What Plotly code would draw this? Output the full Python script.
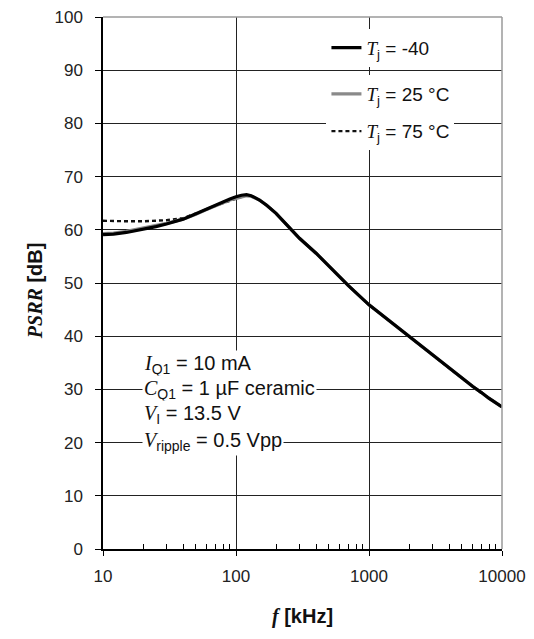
import plotly.graph_objects as go

freq_khz = [10, 12, 15, 20, 25, 30, 40, 50, 60, 70, 80, 90, 100, 110, 120, 130, 140, 150,
            170, 200, 250, 300, 400, 500, 700, 1000, 1500, 2000, 3000, 4000, 5000, 6000,
            7000, 8000, 10000]

psrr_m40 = [59.1, 59.2, 59.5, 60.1, 60.6, 61.1, 62.0, 63.0, 63.9, 64.7, 65.3, 65.8, 66.2, 66.5,
            66.6, 66.4, 66.0, 65.6, 64.6, 63.1, 60.5, 58.4, 55.6, 53.2, 49.5, 45.9, 42.4, 39.9,
            36.5, 34.0, 32.1, 30.6, 29.4, 28.3, 26.7]

psrr_25 = [59.3, 59.4, 59.7, 60.3, 60.7, 61.2, 62.0, 62.9, 63.8, 64.5, 65.1, 65.6, 65.9, 66.2,
           66.4, 66.3, 66.0, 65.6, 64.6, 63.1, 60.5, 58.4, 55.6, 53.2, 49.5, 45.9, 42.4, 39.9,
           36.5, 34.0, 32.1, 30.6, 29.4, 28.3, 26.7]

psrr_75 = [61.7, 61.6, 61.6, 61.6, 61.7, 61.8, 62.2, 63.0, 63.8, 64.5, 65.0, 65.5, 65.9, 66.2,
           66.4, 66.3, 66.0, 65.6, 64.6, 63.1, 60.5, 58.4, 55.6, 53.2, 49.5, 45.9, 42.4, 39.9,
           36.5, 34.0, 32.1, 30.6, 29.4, 28.3, 26.7]

x_ticks = [10, 100, 1000, 10000]
x_tick_text = ["10", "100", "1000", "10000"]
x_minor = [20, 30, 40, 50, 60, 70, 80, 90, 200, 300, 400, 500, 600, 700, 800, 900,
           2000, 3000, 4000, 5000, 6000, 7000, 8000, 9000]

SERIF = "Liberation Serif"
SANS = "Liberation Sans"


def it(s):
    return f'<span style="font-family:{SERIF}"><i>{s}</i></span>'


fig = go.Figure()
fig.add_trace(go.Scatter(x=freq_khz, y=psrr_75, mode="lines", name=f"{it('T')}<sub>j</sub> = 75 °C",
                         line=dict(color="#111111", width=2.4, dash="4px,3px"), legend="legend3"))
fig.add_trace(go.Scatter(x=freq_khz, y=psrr_25, mode="lines", name=f"{it('T')}<sub>j</sub> = 25 °C",
                         line=dict(color="#8a8a8a", width=3.2), legend="legend2"))
fig.add_trace(go.Scatter(x=freq_khz, y=psrr_m40, mode="lines", name=f"{it('T')}<sub>j</sub> = -40",
                         line=dict(color="#000000", width=3.2), legend="legend"))

leg_common = dict(bgcolor="white", borderwidth=0, font=dict(family=SANS, size=19, color="#111"),
                  xanchor="left", yanchor="top", itemwidth=30)
fig.update_layout(
    legend=dict(x=0.56, y=0.978, **leg_common),
    legend2=dict(x=0.56, y=0.891, **leg_common),
    legend3=dict(x=0.56, y=0.821, **leg_common),
)

notes = [
    (f"{it('I')}<sub>Q1</sub> = 10 mA", 0.347),
    (f"{it('C')}<sub>Q1</sub> = 1 µF ceramic", 0.299),
    (f"{it('V')}<sub>I</sub> = 13.5 V", 0.252),
    (f"{it('V')}<sub>ripple</sub> = 0.5 Vpp", 0.203),
]
for txt, yy in notes:
    fig.add_annotation(text=txt, xref="paper", yref="paper", x=0.097, y=yy, xanchor="left",
                       yanchor="middle", showarrow=False, bgcolor="white", borderpad=1,
                       font=dict(family=SANS, size=20, color="#111"))

# y-axis title placed as a rotated annotation
fig.add_annotation(text=f'<span style="font-family:{SERIF}"><b><i>PSRR</i></b></span><b> [dB]</b>',
                   xref="paper", yref="paper", x=-0.17, y=0.485, xanchor="center", yanchor="middle",
                   textangle=-90, showarrow=False, font=dict(family=SANS, size=20, color="#111"))

# light frame on top and right
fig.add_shape(type="line", xref="paper", yref="paper", x0=0, x1=1, y0=1, y1=1,
              line=dict(color="#9a9a9a", width=1.5), layer="above")
fig.add_shape(type="line", xref="paper", yref="paper", x0=1, x1=1, y0=0, y1=1,
              line=dict(color="#9a9a9a", width=1.5), layer="above")

fig.update_xaxes(
    type="log", range=[1, 4], tickvals=x_ticks, ticktext=x_tick_text,
    ticks="outside", ticklen=5, tickcolor="black", tickwidth=1.2,
    showline=True, linecolor="black", linewidth=1.5,
    showgrid=True, gridcolor="#222222", gridwidth=1.2,
    minor=dict(tickvals=x_minor, ticks="inside", ticklen=5, tickcolor="black", showgrid=False),
    tickfont=dict(family=SANS, size=17, color="#222"), ticklabelstandoff=6,
    ticklabeloverflow="allow", automargin=False,
    title=dict(text=f'<span style="font-family:{SERIF}"><b><i>f</i></b></span><b> [kHz]</b>',
               font=dict(family=SANS, size=20, color="#111"), standoff=24),
    zeroline=False,
)
fig.update_yaxes(
    range=[0, 100], dtick=10, ticks="outside", ticklen=6, tickcolor="black", tickwidth=1.2,
    showline=True, linecolor="black", linewidth=1.5,
    showgrid=True, gridcolor="#222222", gridwidth=1.2,
    tickfont=dict(family=SANS, size=17, color="#222"), ticklabelstandoff=9,
    ticklabeloverflow="allow", automargin=False,
    zeroline=False,
)

# the page body keeps an 8 px margin, so the figure is 16 px smaller than the window
fig.update_layout(
    width=518, height=623,
    margin=dict(l=95, r=24, t=9, b=82),
    paper_bgcolor="white", plot_bgcolor="white",
    showlegend=True,
)

fig.write_html("out.html")
